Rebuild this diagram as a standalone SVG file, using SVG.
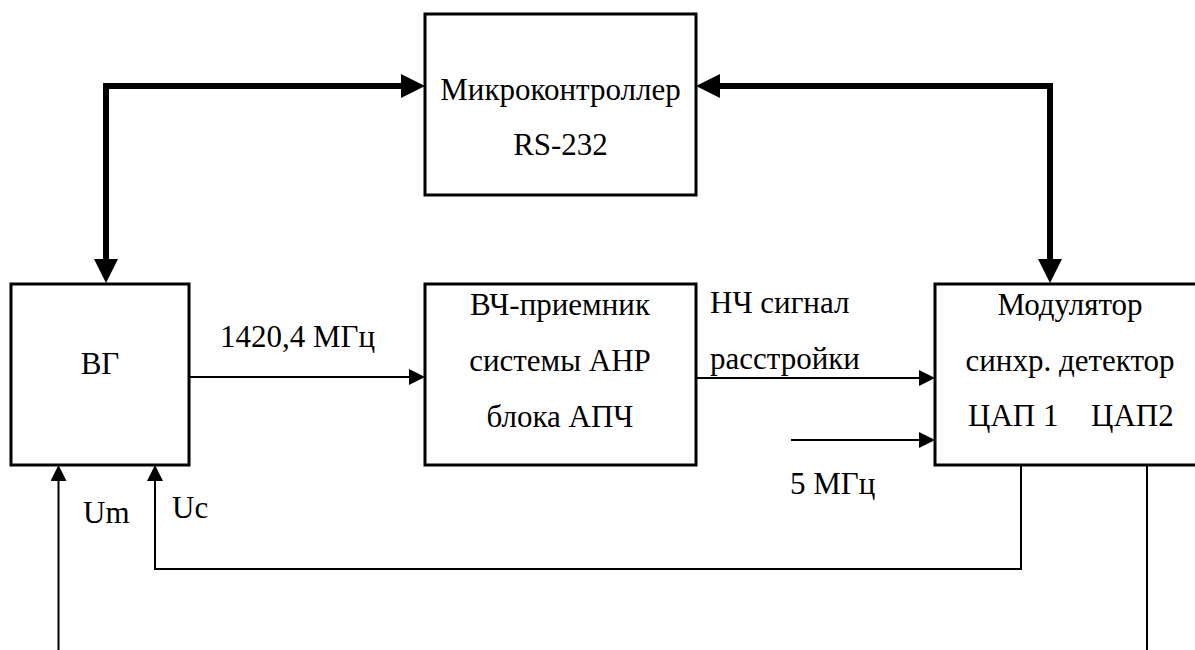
<svg xmlns="http://www.w3.org/2000/svg" width="1195" height="650" viewBox="0 0 1195 650">
<style>
.box{fill:#fff;stroke:#000;stroke-width:3}
.t{font-family:'Liberation Serif','Times New Roman',serif;font-size:31px;fill:#000}
.c{text-anchor:middle}
.bus{fill:none;stroke:#000;stroke-width:6;stroke-linejoin:miter}
.w{fill:none;stroke:#000;stroke-width:2}
</style>
<defs>
<marker id="big" markerUnits="userSpaceOnUse" markerWidth="24" markerHeight="24" refX="12" refY="12" orient="auto-start-reverse" viewBox="0 0 24 24">
<path d="M0,0 L24,12 L0,24 z" fill="#000"/>
</marker>
<marker id="sm" markerUnits="userSpaceOnUse" markerWidth="16" markerHeight="16" refX="8" refY="8" orient="auto" viewBox="0 0 16 16">
<path d="M0,0 L16,8 L0,16 z" fill="#000"/>
</marker>
</defs>
<rect width="1195" height="650" fill="#fff"/>
<g id="connectors">
<path class="bus" d="M413,86 H106 V271" marker-start="url(#big)" marker-end="url(#big)"/>
<path class="bus" d="M708,86 H1050 V271" marker-start="url(#big)" marker-end="url(#big)"/>
<path class="w" d="M189,377 H417" marker-end="url(#sm)"/>
<path class="w" d="M696,378 H927" marker-end="url(#sm)"/>
<path class="w" d="M791,440 H927" marker-end="url(#sm)"/>
<path class="w" d="M58.5,650 V473" marker-end="url(#sm)"/>
<path class="w" d="M1021,466 V569 H155 V473" marker-end="url(#sm)"/>
<path class="w" d="M1147,466 V650"/>
</g>
<g font-family="Liberation Serif, Times New Roman, serif">
<g id="micro">
<rect class="box" x="425" y="14" width="271" height="181"/>
<text class="t c" x="560.5" y="100">Микроконтроллер</text>
<text class="t c" x="560.5" y="155">RS-232</text>
</g>
<g id="vg">
<rect class="box" x="11" y="284" width="178" height="181"/>
<text class="t c" x="100" y="374">ВГ</text>
</g>
<g id="vch">
<rect class="box" x="425" y="284" width="271" height="181"/>
<text class="t c" x="560" y="315">ВЧ-приемник</text>
<text class="t c" x="560" y="371">системы АНР</text>
<text class="t c" x="560" y="427">блока АПЧ</text>
</g>
<g id="mod">
<rect class="box" x="935" y="284" width="265" height="181"/>
<text class="t c" x="1070" y="315">Модулятор</text>
<text class="t c" x="1070" y="371">синхр. детектор</text>
<text class="t" y="426"><tspan x="968">ЦАП 1</tspan> <tspan x="1091">ЦАП2</tspan></text>
</g>
<g id="labels">
<text class="t" x="220" y="347">1420,4 МГц</text>
<text class="t" x="710" y="313">НЧ сигнал</text>
<text class="t" x="710" y="369">расстройки</text>
<text class="t" x="790" y="494">5 МГц</text>
<text class="t" x="83" y="523">Um</text>
<text class="t" x="172" y="518">Uc</text>
</g>
</g>
</svg>
